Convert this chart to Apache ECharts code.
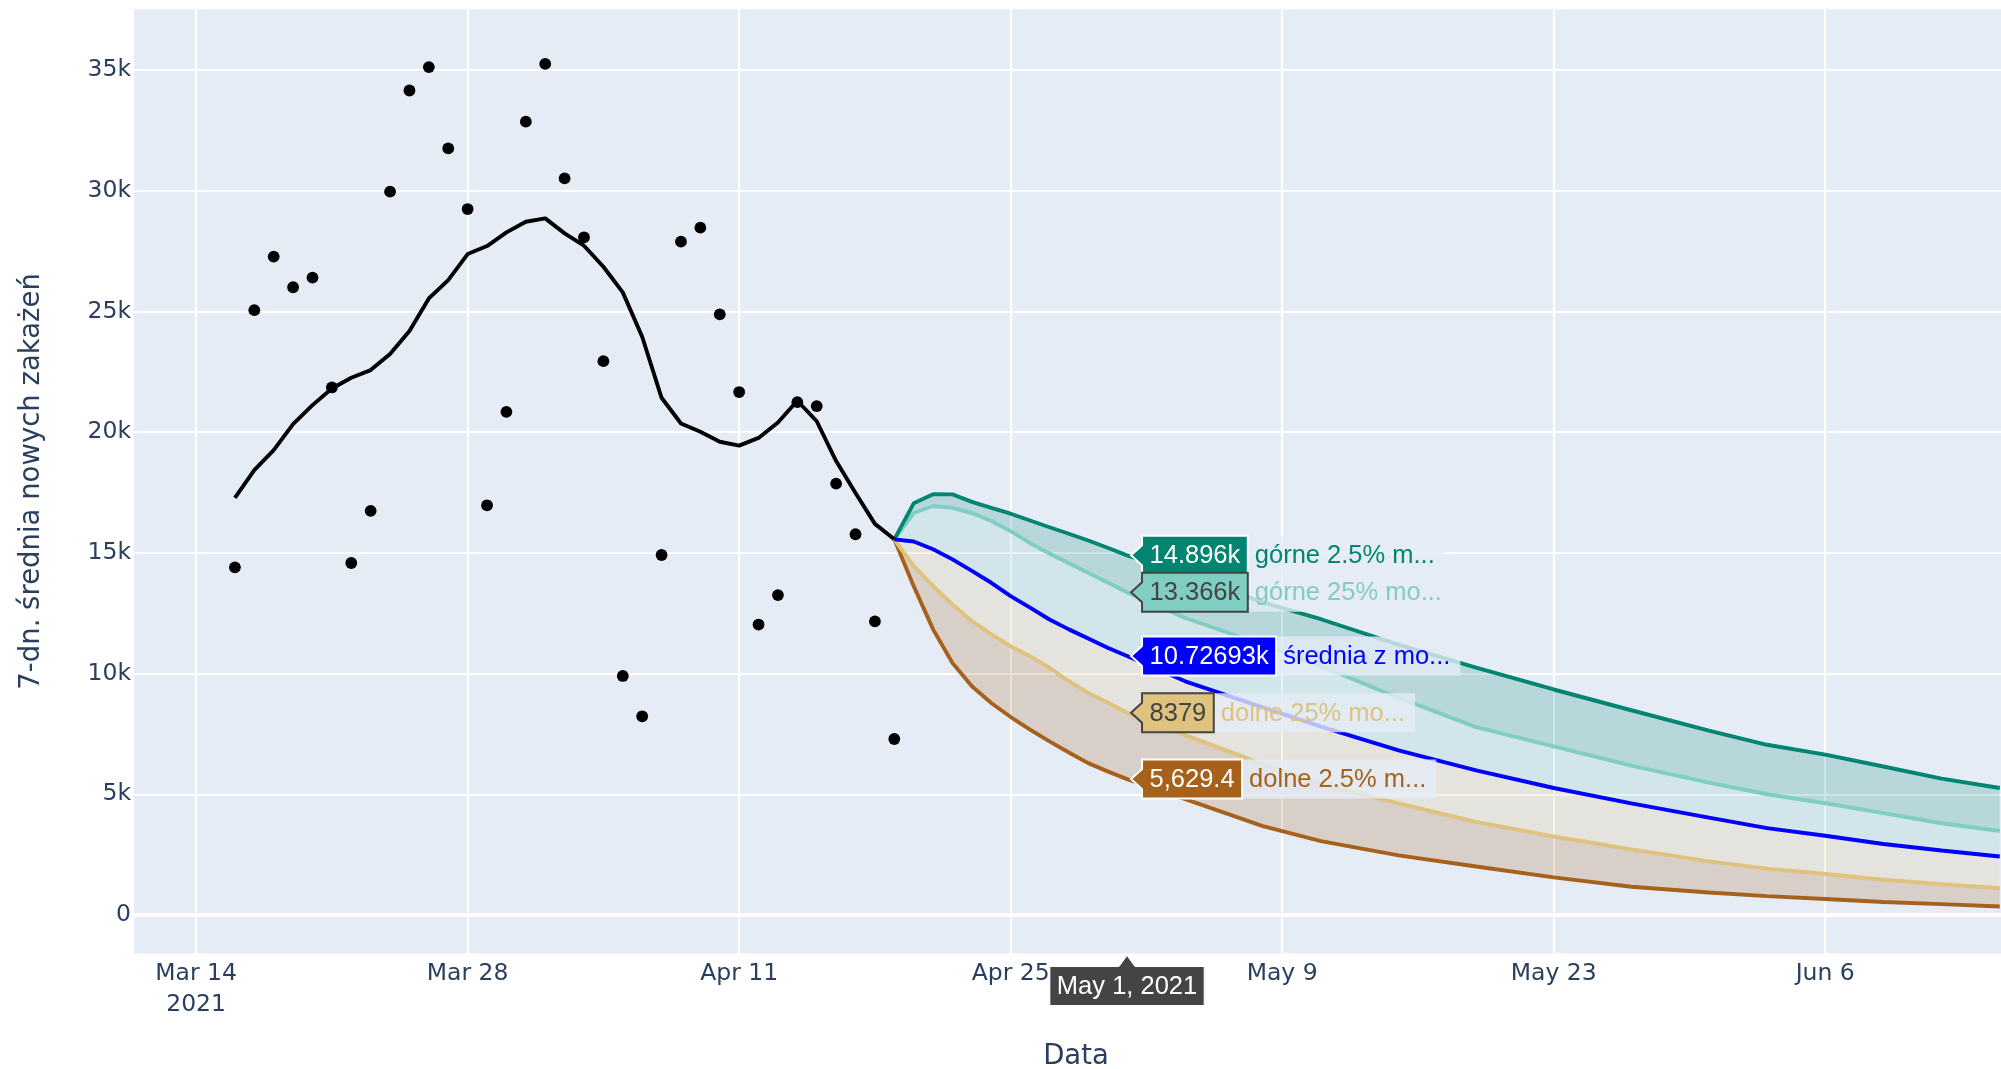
<!DOCTYPE html>
<html>
<head>
<meta charset="utf-8">
<script src="https://cdn.jsdelivr.net/npm/echarts@6/dist/echarts.min.js"></script>
<style>
  html, body { margin: 0; padding: 0; background: #fff; }
  #chart { width: 2001px; height: 1069px; }
</style>
</head>
<body>
<div id="chart"></div>
<script>
// dzienne przypadki + 7-dniowa średnia
const obsDates = [
  '2021-03-16', '2021-03-17', '2021-03-18', '2021-03-19', '2021-03-20', '2021-03-21', '2021-03-22',
  '2021-03-23', '2021-03-24', '2021-03-25', '2021-03-26', '2021-03-27', '2021-03-28', '2021-03-29',
  '2021-03-30', '2021-03-31', '2021-04-01', '2021-04-02', '2021-04-03', '2021-04-04', '2021-04-05',
  '2021-04-06', '2021-04-07', '2021-04-08', '2021-04-09', '2021-04-10', '2021-04-11', '2021-04-12',
  '2021-04-13', '2021-04-14', '2021-04-15', '2021-04-16', '2021-04-17', '2021-04-18', '2021-04-19'
]
const dailyCases = [
  14400, 25050, 27270, 26000, 26400, 21850, 14580,
  16740, 29960, 34150, 35120, 31750, 29240, 16970,
  20840, 32860, 35250, 30510, 28070, 22940, 9900,
  8230, 14910, 27890, 28470, 24880, 21660, 12030,
  13250, 21240, 21080, 17870, 15770, 12160, 7290
]
const avg7 = [
  17280, 18425, 19254, 20331, 21118, 21809, 22251,
  22569, 23232, 24185, 25539, 26298, 27376, 27707,
  28273, 28715, 28854, 28232, 27721, 26851, 25787,
  23950, 21422, 20359, 20013, 19600, 19440, 19760,
  20400, 21300, 20450, 18800, 17480, 16200, 15560
]

// prognoza (kwantyle modeli)
const fcDates = [
  '2021-04-19', '2021-04-20', '2021-04-21', '2021-04-22', '2021-04-23', '2021-04-24', '2021-04-25',
  '2021-04-26', '2021-04-27', '2021-04-28', '2021-04-29', '2021-04-30', '2021-05-01', '2021-05-04',
  '2021-05-08', '2021-05-11', '2021-05-15', '2021-05-19', '2021-05-23', '2021-05-27', '2021-05-31',
  '2021-06-03', '2021-06-06', '2021-06-09', '2021-06-12', '2021-06-15'
]
const fcHigh95 = [
  15560, 17050, 17430, 17420, 17110, 16860, 16620, 16340, 16060, 15790, 15510, 15210, 14896,
  14100, 12950, 12250, 11200, 10250, 9340, 8480, 7640, 7050, 6640, 6150, 5650, 5260
]
const fcHigh50 = [
  15560, 16650, 16940, 16860, 16650, 16320, 15900, 15400, 14970, 14570, 14170, 13770, 13366,
  12300, 11200, 10300, 9000, 7780, 6980, 6190, 5480, 5000, 4630, 4220, 3800, 3480
]
const fcMean = [
  15560, 15470, 15150, 14730, 14250, 13760, 13210, 12730, 12240, 11830, 11450, 11070, 10726.93,
  9680, 8600, 7800, 6820, 5990, 5260, 4620, 4030, 3600, 3280, 2940, 2670, 2420
]
const fcLow50 = [
  15560, 14450, 13620, 12860, 12170, 11620, 11130, 10720, 10240, 9680, 9200, 8800, 8379,
  7450, 6250, 5420, 4620, 3860, 3250, 2720, 2220, 1920, 1700, 1460, 1280, 1110
]
const fcLow95 = [
  15560, 13620, 11830, 10440, 9470, 8780, 8200, 7680, 7190, 6730, 6290, 5950, 5629.4,
  4800, 3680, 3060, 2470, 2010, 1560, 1170, 930, 780, 660, 540, 450, 350
]

const xTickLabels = ['Mar 14\n2021', 'Mar 28', 'Apr 11', 'Apr 25', 'May 9', 'May 23', 'Jun 6']

// etykiety "hover" dla 1 maja
const hoverDate = '2021-05-01'
const hoverDateText = 'May 1, 2021'
const hoverTexts = ['14.896k', '13.366k', '10.72693k', '8379', '5,629.4']
const hoverNames = ['górne 2.5% m...', 'górne 25% mo...', 'średnia z mo...', 'dolne 25% mo...', 'dolne 2.5% m...']

// ---------------------------------------------------------------

const DAY = 86400000
const X0 = Date.UTC(2021, 2, 14)
// oś x w jednostkach 14 dni od 14 marca
const toX = d => (Date.parse(d) - X0) / (14 * DAY)
const pair = (dates, vals) => dates.map((d, i) => [toX(d), vals[i]])

const Y_MIN = -1595
const Y_MAX = 37513
const X_MIN = -3.203 / 14
const X_MAX = 93.94 / 14

const AXIS_COLOR = '#2a3f5f'
const AXIS_FONT = 'DejaVu Sans'
const HFONT = '25.5px "Liberation Sans", Arial, sans-serif'

const colHigh95 = '#018571'
const colHigh50 = '#80cdc1'
const colMean = '#0000ff'
const colLow50 = '#dfc27d'
const colLow95 = '#a6611a'

// pasma: dolna granica, górna granica, wypełnienie
const bands = [
  { lo: fcLow95, hi: fcLow50, fill: 'rgba(166,97,26,0.2)' },
  { lo: fcLow50, hi: fcMean, fill: 'rgba(223,194,125,0.2)' },
  { lo: fcMean, hi: fcHigh50, fill: 'rgba(128,205,193,0.2)' },
  { lo: fcHigh50, hi: fcHigh95, fill: 'rgba(1,133,113,0.2)' }
]

const hoverFill = [colHigh95, colHigh50, colMean, colLow50, colLow95]
const hoverInk = ['#fff', '#444', '#fff', '#444', '#fff']
const hoverVals = [fcHigh95, fcHigh50, fcMean, fcLow50, fcLow95].map(a => a[fcDates.indexOf(hoverDate)])

const measureCtx = document.createElement('canvas').getContext('2d')
const textW = (s, font) => { measureCtx.font = font; return measureCtx.measureText(s).width }

const lineSeries = (name, vals, color) => ({
  name, type: 'line', data: pair(fcDates, vals),
  showSymbol: false, z: 4, silent: true,
  lineStyle: { color, width: 3.9 }, itemStyle: { color }
})

const chart = echarts.init(document.getElementById('chart'))

chart.setOption({
  animation: false,
  backgroundColor: '#fff',
  grid: {
    show: true, left: 134, top: 9.3, width: 1884, height: 944.2,
    backgroundColor: '#e5ecf6', borderWidth: 0,
    containLabel: false, outerBoundsMode: 'none'
  },
  xAxis: {
    type: 'value', min: X_MIN, max: X_MAX, splitNumber: 6,
    axisLine: { show: false }, axisTick: { show: false },
    splitLine: { show: true, showMinLine: false, showMaxLine: false, lineStyle: { color: '#fff', width: 2 } },
    axisLabel: {
      showMinLabel: false, showMaxLabel: false,
      color: AXIS_COLOR, fontFamily: AXIS_FONT, fontSize: 23.5, lineHeight: 31, margin: 5,
      formatter: v => xTickLabels[Math.round(v)] || ''
    },
    name: 'Data', nameLocation: 'middle', nameGap: 89,
    nameTextStyle: { color: AXIS_COLOR, fontFamily: AXIS_FONT, fontSize: 27.5 }
  },
  yAxis: {
    type: 'value', min: Y_MIN, max: Y_MAX, splitNumber: 8,
    axisLine: { show: false }, axisTick: { show: false },
    splitLine: { show: true, showMinLine: false, showMaxLine: false, lineStyle: { color: '#fff', width: 2 } },
    axisLabel: {
      showMinLabel: false, showMaxLabel: false,
      color: AXIS_COLOR, fontFamily: AXIS_FONT, fontSize: 23.5, margin: 3,
      formatter: v => (v === 0 ? '0' : v / 1000 + 'k')
    },
    name: '7-dn. średnia nowych zakażeń', nameLocation: 'middle', nameGap: 88,
    nameTextStyle: { color: AXIS_COLOR, fontFamily: AXIS_FONT, fontSize: 27.5 }
  },
  series: [
    // pasma między kwantylami
    {
      type: 'custom', z: 2, silent: true,
      data: bands.map((b, k) => [toX(fcDates[0]), b.lo[0], k]),
      renderItem(params, api) {
        const b = bands[api.value(2)]
        const top = fcDates.map((d, i) => api.coord([toX(d), b.hi[i]]))
        const bot = fcDates.map((d, i) => api.coord([toX(d), b.lo[i]])).reverse()
        return { type: 'polygon', shape: { points: top.concat(bot) }, style: { fill: b.fill } }
      }
    },

    lineSeries('dolne 2.5%', fcLow95, colLow95),
    lineSeries('dolne 25%', fcLow50, colLow50),
    lineSeries('górne 25%', fcHigh50, colHigh50),
    lineSeries('górne 2.5%', fcHigh95, colHigh95),
    lineSeries('średnia', fcMean, colMean),

    {
      name: 'dzienne', type: 'scatter', data: pair(obsDates, dailyCases),
      symbol: 'circle', symbolSize: 11.8, itemStyle: { color: '#000', opacity: 1 }, z: 5, silent: true,
      markLine: {
        silent: true, symbol: 'none', label: { show: false },
        lineStyle: { color: '#fff', width: 3.9, type: 'solid' },
        data: [{ yAxis: 0 }], z: 1
      }
    },
    {
      name: '7-dn. średnia', type: 'line', data: pair(obsDates, avg7),
      showSymbol: false, z: 5, silent: true,
      lineStyle: { color: '#000', width: 3.9 }, itemStyle: { color: '#000' }
    },

    // etykiety wartości dla 1 maja
    {
      type: 'custom', z: 20, silent: true, clip: false,
      data: hoverVals.map((v, i) => [toX(hoverDate), v, i]),
      renderItem(params, api) {
        const i = api.value(2)
        const p = api.coord([api.value(0), api.value(1)])
        const tipX = p[0] + 4
        const cy = p[1]
        const bh = 39
        const bx = tipX + 11
        const bw = textW(hoverTexts[i], HFONT) + 15
        const by = cy - bh / 2
        const nw = textW(hoverNames[i], HFONT) + 16
        return {
          type: 'group',
          children: [
            { type: 'rect', shape: { x: bx + bw + 1, y: by, width: nw, height: bh },
              style: { fill: 'rgba(229,236,246,0.8)' } },
            { type: 'polygon',
              shape: { points: [[tipX, cy], [bx, cy - 10], [bx, by], [bx + bw, by], [bx + bw, by + bh], [bx, by + bh], [bx, cy + 10]] },
              style: { fill: hoverFill[i], stroke: hoverInk[i], lineWidth: 2 } },
            { type: 'text',
              style: { text: hoverTexts[i], x: bx + bw / 2, y: cy + 1, align: 'center', verticalAlign: 'middle',
                       fill: hoverInk[i], font: HFONT } },
            { type: 'text',
              style: { text: hoverNames[i], x: bx + bw + 7, y: cy + 1, align: 'left', verticalAlign: 'middle',
                       fill: hoverFill[i], font: HFONT } }
          ]
        }
      }
    },
    // etykieta daty na osi x
    {
      type: 'custom', z: 20, silent: true, clip: false,
      data: [[toX(hoverDate), Y_MIN]],
      renderItem(params, api) {
        const p = api.coord([api.value(0), api.value(1)])
        const tx = p[0]
        const ty = p[1] + 2
        const w = textW(hoverDateText, HFONT) + 14
        const h = 39
        const top = ty + 11
        return {
          type: 'group',
          children: [
            { type: 'polygon',
              shape: { points: [[tx, ty], [tx + 8, top], [tx + w / 2, top], [tx + w / 2, top + h], [tx - w / 2, top + h], [tx - w / 2, top], [tx - 8, top]] },
              style: { fill: '#444', stroke: '#fff', lineWidth: 1 } },
            { type: 'text',
              style: { text: hoverDateText, x: tx, y: top + h / 2 + 1, align: 'center', verticalAlign: 'middle',
                       fill: '#fff', font: HFONT } }
          ]
        }
      }
    }
  ]
})
</script>
</body>
</html>
